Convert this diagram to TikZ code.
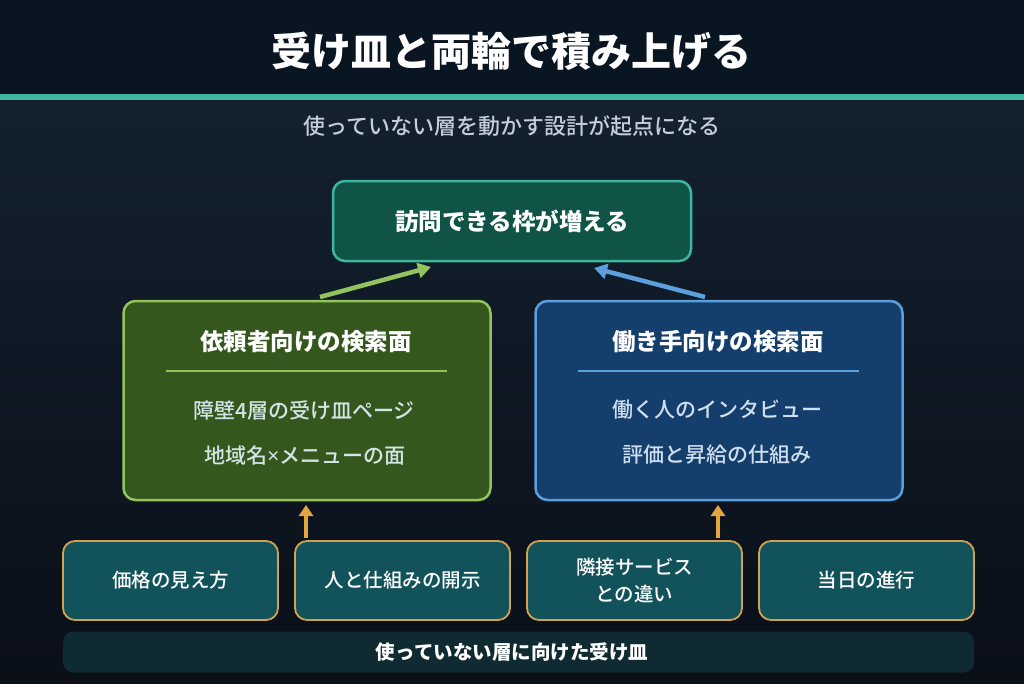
\documentclass[tikz,border=0pt]{standalone}
\usepackage{fontspec}
\setmainfont{Noto Sans CJK JP}
\newfontfamily\medfont{Noto Sans CJK JP Medium}
\newfontfamily\blackfont{Noto Sans CJK JP Black}
\newfontfamily\latinfont{Noto Sans}
\usetikzlibrary{arrows.meta}
\definecolor{bandbg}{HTML}{0A1522}
\definecolor{bgtop}{HTML}{13212F}
\definecolor{bgbot}{HTML}{0A0F18}
\definecolor{tealline}{HTML}{40B89C}
\definecolor{subtxt}{HTML}{C3CEDA}
\definecolor{topfill}{HTML}{0F5446}
\definecolor{topline}{HTML}{3FB59B}
\definecolor{lfill}{HTML}{35571E}
\definecolor{lline}{HTML}{93C35C}
\definecolor{ltxt}{HTML}{D3E4E6}
\definecolor{rfill}{HTML}{143E6C}
\definecolor{rline}{HTML}{5B9FDC}
\definecolor{rtxt}{HTML}{CFDFEF}
\definecolor{bfill}{HTML}{12535B}
\definecolor{bline}{HTML}{D1A350}
\definecolor{barfill}{HTML}{0F2A30}
\definecolor{orarrow}{HTML}{E3A53F}
\tikzset{
  panel/.style={rounded corners=12pt, line width=2.5pt, inner sep=0pt},
  topbox/.style={panel, draw=topline, fill=topfill, minimum width=358pt, minimum height=80pt},
  sidebox/.style={panel, minimum width=367pt, minimum height=199pt},
  leaf/.style={rounded corners=12pt, line width=1.8pt, draw=bline, fill=bfill, inner sep=0pt,
    minimum width=215pt, minimum height=79pt, text=white, font=\medfont\fontsize{19.5}{27}\selectfont, align=center},
  boxtitle/.style={text=white, font=\fontsize{23.5}{28}\selectfont\bfseries},
  item/.style={font=\medfont\fontsize{21}{26}\selectfont},
  bigarrow/.style={line width=4.5pt, -{Triangle[length=13pt,width=15pt]}},
  uparrow/.style={line width=4.5pt, draw=orarrow, -{Triangle[length=11pt,width=14pt]}}
}
\begin{document}
\begin{tikzpicture}[x=1pt,y=-1pt]
\useasboundingbox (0,0) rectangle (1024,683);
\shade[top color=bgtop, bottom color=bgbot] (0,96) rectangle (1024,683);
\fill[bandbg] (0,0) rectangle (1024,95);
\fill[tealline] (0,94) rectangle (1024,100);

\node[text=white, font=\blackfont\fontsize{40}{44}\selectfont] (title) at (511,51) {受け皿と両輪で積み上げる};
\node[text=subtxt, font=\medfont\fontsize{22}{26}\selectfont] (subtitle) at (512,126) {使っていない層を動かす設計が起点になる};

\node[topbox] (top) at (512,221) {};
\node[boxtitle] (toptxt) at (512,221) {訪問できる枠が増える};

\node[sidebox, draw=lline, fill=lfill] (lbox) at (307,400.5) {};
\node[boxtitle] (ltitle) at (306,342) {依頼者向けの検索面};
\coordinate (ls1) at (166,371);
\coordinate (ls2) at (447,371);
\draw[lline, line width=1.5pt] (ls1) -- (ls2);
\node[item, text=ltxt] (l1) at (304,410) {障壁4層の受け皿ページ};
\node[item, text=ltxt] (l2) at (305,455) {地域名{\latinfont ×}メニューの面};

\node[sidebox, draw=rline, fill=rfill] (rbox) at (719,400.5) {};
\node[boxtitle] (rtitle) at (718,342) {働き手向けの検索面};
\coordinate (rs1) at (578,371);
\coordinate (rs2) at (859,371);
\draw[rline, line width=1.5pt] (rs1) -- (rs2);
\node[item, text=rtxt] (r1) at (717,410) {働く人のインタビュー};
\node[item, text=rtxt] (r2) at (717,455) {評価と昇給の仕組み};

\coordinate (ga) at (320,297);
\coordinate (gb) at (431,267);
\draw[bigarrow, draw=lline] (ga) -- (gb);
\coordinate (ba) at (705,297);
\coordinate (bb) at (594,268);
\draw[bigarrow, draw=rline] (ba) -- (bb);

\node[leaf] (b1) at (170.5,580.5) {価格の見え方};
\node[leaf] (b2) at (402.5,580.5) {人と仕組みの開示};
\node[leaf] (b3) at (634.5,580.5) {隣接サービス\\との違い};
\node[leaf] (b4) at (866.5,580.5) {当日の進行};

\coordinate (o1a) at (306,538);
\coordinate (o1b) at (306,505);
\draw[uparrow] (o1a) -- (o1b);
\coordinate (o2a) at (718,538);
\coordinate (o2b) at (718,505);
\draw[uparrow] (o2a) -- (o2b);

\node[fill=barfill, rounded corners=10pt, minimum width=911pt, minimum height=41pt, inner sep=0pt] (bar) at (518.5,652) {};
\node[text=white, font=\fontsize{19.5}{24}\selectfont\bfseries] (bartxt) at (512,652) {使っていない層に向けた受け皿};
\end{tikzpicture}
\end{document}
